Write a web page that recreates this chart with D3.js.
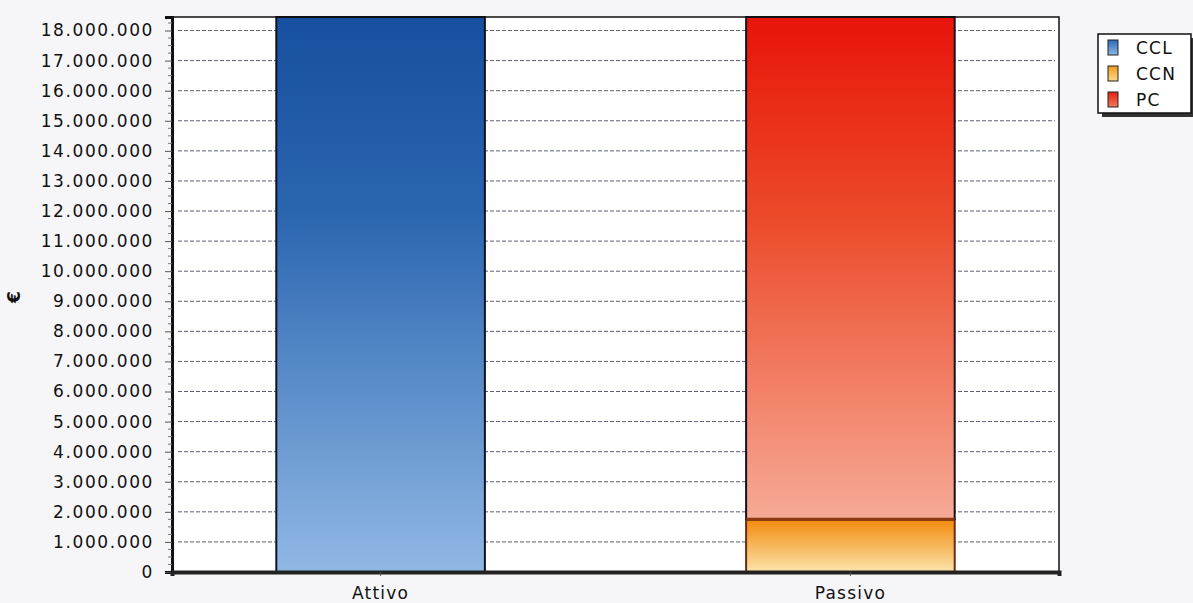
<!DOCTYPE html>
<html>
<head>
<meta charset="utf-8">
<script src="https://cdn.jsdelivr.net/npm/d3@7"></script>
<style>
  html, body { margin: 0; padding: 0; background: #f6f6f9; }
  svg { display: block; }
  text { font-family: "DejaVu Sans", Verdana, sans-serif; fill: #111; }
</style>
</head>
<body>
<svg id="chart" width="1193" height="603"></svg>
<script>
// Stato patrimoniale: impieghi (Attivo) e fonti (Passivo)
const categories = ["Attivo", "Passivo"];
const seriesNames = ["CCL", "CCN", "PC"];
const ccl = [18450000, 0];
const ccn = [0, 1750000];
const pc  = [0, 16700000];
const yTicks = d3.range(0, 18000001, 1000000);

const svg = d3.select("#chart");
const margin = { left: 172, right: 134, top: 17, bottom: 31 };
const W = 1193, H = 603;
const iw = W - margin.left - margin.right;
const ih = H - margin.top - margin.bottom;

const rows = categories.map((c, i) => ({ cat: c, CCL: ccl[i], CCN: ccn[i], PC: pc[i] }));
const stacked = d3.stack().keys(seriesNames)(rows);
const maxVal = d3.max(rows, r => r.CCL + r.CCN + r.PC);

const x = d3.scaleBand().domain(categories).range([0, iw]).paddingInner(0.556).paddingOuter(0.222);
const y = d3.scaleLinear().domain([0, maxVal]).range([ih, 0]);

const defs = svg.append("defs");
function grad(id, stops) {
  const g = defs.append("linearGradient").attr("id", id)
    .attr("x1", 0).attr("y1", 0).attr("x2", 0).attr("y2", 1);
  stops.forEach(([o, c]) => g.append("stop").attr("offset", o).attr("stop-color", c));
}
grad("gCCL", [["0%", "#17509e"], ["35%", "#2a65b0"], ["100%", "#90b8e4"]]);
grad("gCCN", [["0%", "#f38a0e"], ["100%", "#fce3aa"]]);
grad("gPC", [["0%", "#e8140a"], ["40%", "#ec4a2a"], ["100%", "#f6aa96"]]);
const fills = { CCL: "url(#gCCL)", CCN: "url(#gCCN)", PC: "url(#gPC)" };
const swatch = { CCL: ["#2c68b8", "#8db6e3"], CCN: ["#f39a20", "#fbd88a"], PC: ["#e3200e", "#f07a5a"] };

const g = svg.append("g").attr("transform", `translate(${margin.left},${margin.top})`);

// plot background
g.append("rect").attr("width", iw).attr("height", ih).attr("fill", "#ffffff");

// dashed grid
g.append("g").selectAll("line").data(yTicks.filter(d => d > 0)).join("line")
  .attr("x1", 6).attr("x2", iw - 4)
  .attr("y1", d => y(d)).attr("y2", d => y(d))
  .attr("stroke", "#5a5f72").attr("stroke-width", 1)
  .attr("stroke-dasharray", "4,2");

// bars
stacked.forEach(layer => {
  g.append("g").selectAll("rect").data(layer.filter(d => d[1] > d[0])).join("rect")
    .attr("x", d => x(d.data.cat))
    .attr("width", x.bandwidth())
    .attr("y", d => y(d[1]))
    .attr("height", d => y(d[0]) - y(d[1]))
    .attr("fill", fills[layer.key])
    .attr("stroke", layer.key === "CCN" ? "#6a2c10" : "#111122")
    .attr("stroke-width", 2);
});
// separator between CCN and PC
const ccnLayer = stacked.find(l => l.key === "CCN");
g.append("g").selectAll("line").data(ccnLayer.filter(d => d[1] > d[0])).join("line")
  .attr("x1", d => x(d.data.cat)).attr("x2", d => x(d.data.cat) + x.bandwidth())
  .attr("y1", d => y(d[1])).attr("y2", d => y(d[1]))
  .attr("stroke", "#8a3a12").attr("stroke-width", 3);

// frame
g.append("rect").attr("width", iw).attr("height", ih)
  .attr("fill", "none").attr("stroke", "#111").attr("stroke-width", 1.5);

// y axis
const yAxis = g.append("g")
  .call(d3.axisLeft(y).tickValues(yTicks).tickSize(7).tickPadding(11)
    .tickFormat(d => d3.format(",")(d).replace(/,/g, ".")));
yAxis.select(".domain").attr("stroke", "#111").attr("stroke-width", 3);
yAxis.selectAll(".tick line").attr("stroke", "#555");
yAxis.selectAll("text").style("font-size", "17px").style("letter-spacing", "1.6px").attr("fill", "#111");
// minor ticks
g.append("g").selectAll("line")
  .data(d3.range(0, maxVal, 250000).filter(v => v % 1000000 !== 0)).join("line")
  .attr("x1", -4).attr("x2", 0).attr("y1", d => y(d)).attr("y2", d => y(d))
  .attr("stroke", "#777");

// x axis
const xAxis = g.append("g").attr("transform", `translate(0,${ih})`)
  .call(d3.axisBottom(x).tickSize(4).tickPadding(11));
xAxis.select(".domain").attr("stroke", "#222").attr("stroke-width", 4);
xAxis.selectAll(".tick line").attr("stroke", "#555");
xAxis.selectAll("text").style("font-size", "17px").style("letter-spacing", "1.2px").attr("fill", "#111");

// y axis title
svg.append("text").attr("transform", `translate(20,297) rotate(-90)`)
  .attr("text-anchor", "middle").style("font-size", "17px").style("font-weight", "bold").text("€");

// legend
const lg = svg.append("g").attr("transform", "translate(1098,34)");
lg.append("rect").attr("x", 4).attr("y", 4).attr("width", 93).attr("height", 79).attr("fill", "#333");
lg.append("rect").attr("width", 93).attr("height", 79).attr("fill", "#fff")
  .attr("stroke", "#111").attr("stroke-width", 1.5);
seriesNames.forEach((s, i) => {
  const id = "sw" + s;
  const sg = defs.append("linearGradient").attr("id", id).attr("x1", 0).attr("y1", 0).attr("x2", 0).attr("y2", 1);
  sg.append("stop").attr("offset", "0%").attr("stop-color", swatch[s][0]);
  sg.append("stop").attr("offset", "100%").attr("stop-color", swatch[s][1]);
  const row = lg.append("g").attr("transform", `translate(10,${6 + i * 26})`);
  row.append("rect").attr("width", 10).attr("height", 15).attr("fill", `url(#${id})`)
    .attr("stroke", "#222").attr("stroke-width", 1);
  row.append("text").attr("x", 28).attr("y", 13.5).style("font-size", "17px").style("letter-spacing", "1.2px").text(s);
});
</script>
</body>
</html>
